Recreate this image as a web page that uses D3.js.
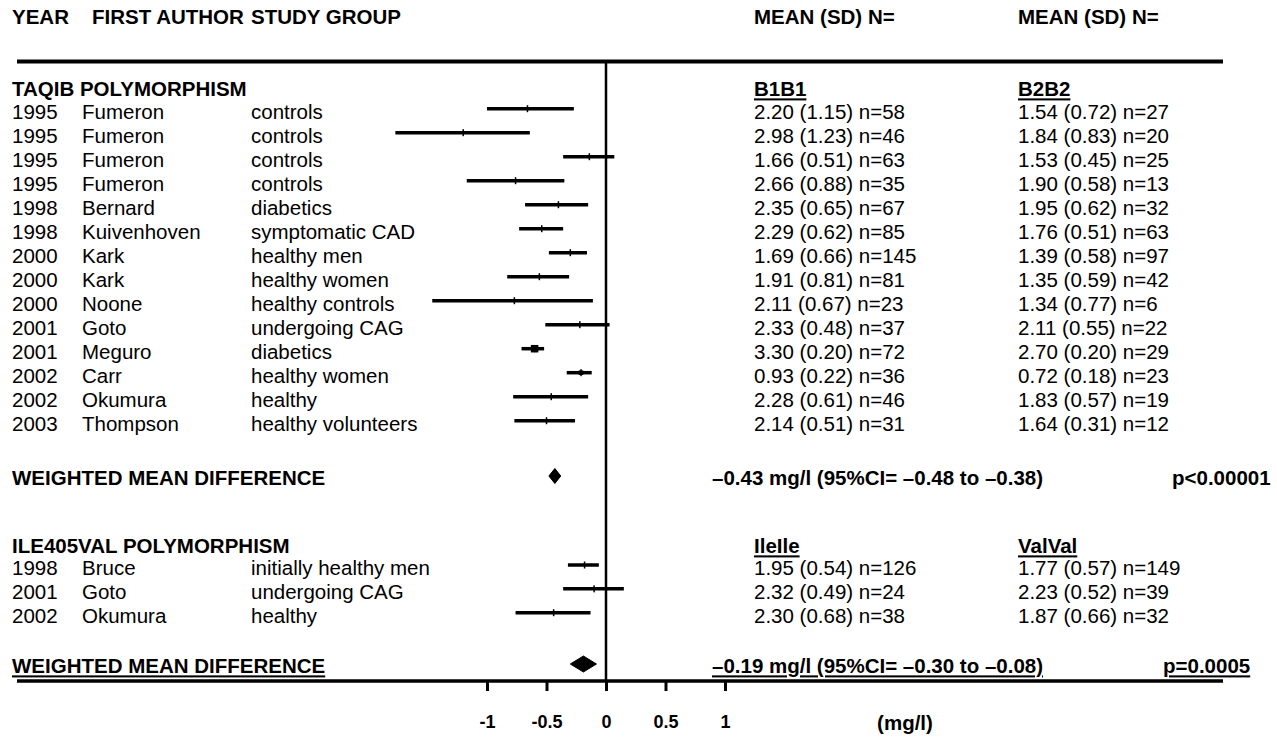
<!DOCTYPE html>
<html>
<head>
<meta charset="utf-8">
<script src="https://cdn.jsdelivr.net/npm/d3@7"></script>
<style>
  body { margin: 0; background: #fff; }
  svg { display: block; font-family: "Liberation Sans", Arial, sans-serif; }
</style>
</head>
<body>
<div id="chart"></div>
<script>
// Forest plot - TaqIB and Ile405Val polymorphisms

// TaqIB studies
let taqYears = ['1995', '1995', '1995', '1995', '1998', '1998', '2000', '2000', '2000', '2001', '2001', '2002', '2002', '2003'];
let taqAuthors = ['Fumeron', 'Fumeron', 'Fumeron', 'Fumeron', 'Bernard', 'Kuivenhoven', 'Kark', 'Kark', 'Noone', 'Goto', 'Meguro', 'Carr', 'Okumura', 'Thompson'];
let taqGroups = ['controls', 'controls', 'controls', 'controls', 'diabetics', 'symptomatic CAD', 'healthy men', 'healthy women', 'healthy controls', 'undergoing CAG', 'diabetics', 'healthy women', 'healthy', 'healthy volunteers'];
let taqB1B1 = ['2.20 (1.15) n=58', '2.98 (1.23) n=46', '1.66 (0.51) n=63', '2.66 (0.88) n=35', '2.35 (0.65) n=67', '2.29 (0.62) n=85', '1.69 (0.66) n=145', '1.91 (0.81) n=81', '2.11 (0.67) n=23', '2.33 (0.48) n=37', '3.30 (0.20) n=72', '0.93 (0.22) n=36', '2.28 (0.61) n=46', '2.14 (0.51) n=31'];
let taqB2B2 = ['1.54 (0.72) n=27', '1.84 (0.83) n=20', '1.53 (0.45) n=25', '1.90 (0.58) n=13', '1.95 (0.62) n=32', '1.76 (0.51) n=63', '1.39 (0.58) n=97', '1.35 (0.59) n=42', '1.34 (0.77) n=6', '2.11 (0.55) n=22', '2.70 (0.20) n=29', '0.72 (0.18) n=23', '1.83 (0.57) n=19', '1.64 (0.31) n=12'];
let taqMean = [-0.66, -1.20, -0.14, -0.76, -0.40, -0.54, -0.30, -0.56, -0.77, -0.22, -0.60, -0.21, -0.46, -0.50];
let taqLow = [-1.00, -1.77, -0.36, -1.17, -0.68, -0.73, -0.48, -0.83, -1.46, -0.51, -0.71, -0.33, -0.78, -0.77];
let taqHigh = [-0.27, -0.64, 0.07, -0.35, -0.15, -0.36, -0.16, -0.31, -0.11, 0.03, -0.52, -0.12, -0.15, -0.26];
let taqWeight = [1, 1, 3, 1, 2, 4, 6, 2, 1, 2, 33, 20, 1, 2];

// Ile405Val studies
let ileYears = ['1998', '2001', '2002'];
let ileAuthors = ['Bruce', 'Goto', 'Okumura'];
let ileGroups = ['initially healthy men', 'undergoing CAG', 'healthy'];
let ileIleIle = ['1.95 (0.54) n=126', '2.32 (0.49) n=24', '2.30 (0.68) n=38'];
let ileValVal = ['1.77 (0.57) n=149', '2.23 (0.52) n=39', '1.87 (0.66) n=32'];
let ileMean = [-0.18, -0.10, -0.44];
let ileLow = [-0.32, -0.36, -0.76];
let ileHigh = [-0.06, 0.15, -0.13];
let ileWeight = [3, 1, 1];

// Pooled results
let pooledMean = [-0.43, -0.19];
let pooledLow = [-0.48, -0.30];
let pooledHigh = [-0.38, -0.08];
let pooledText = ['\u20130.43 mg/l (95%CI= \u20130.48 to \u20130.38)', '\u20130.19 mg/l (95%CI= \u20130.30 to \u20130.08)'];
let pooledP = ['p<0.00001', 'p=0.0005'];

let tickValues = [-1, -0.5, 0, 0.5, 1];
let tickLabels = ['-1', '-0.5', '0', '0.5', '1'];

const renderChart = () => {
    let W = 1277, H = 738;
    let fs = 20.5;

    let s = d3.select("#chart")
        .append("svg")
        .attr("width", W)
        .attr("height", H);

    // x scale for effect size
    let x = d3.scaleLinear().domain([-1, 1]).range([487, 725]);

    // row positions (line centre), text sits a bit lower
    let yT = d3.scaleLinear().domain([0, 13]).range([108.7, 420.7]);
    let yI = d3.scaleLinear().domain([0, 2]).range([565, 612.7]);
    let yP = [476, 664];
    let boxSize = d3.scaleLinear().domain([0, 33]).range([0, 7.5]);

    let cols = { year: 12, author: 82, group: 251, c1: 754, c2: 1018 };

    const txt = (t, xx, yy, bold, underline, anchor) => {
        s.append("text")
            .attr("x", xx)
            .attr("y", yy + fs * 0.36)
            .attr("font-size", fs)
            .attr("font-weight", bold ? "bold" : "normal")
            .attr("text-anchor", anchor || "start")
            .style("text-decoration", underline ? "underline" : "none")
            .attr("fill", "#000")
            .text(t);
    };

    // Header
    txt("YEAR", cols.year, 17, true);
    txt("FIRST AUTHOR", 92, 17, true);
    txt("STUDY GROUP", 251, 17, true);
    txt("MEAN (SD) N=", cols.c1, 17, true);
    txt("MEAN (SD) N=", cols.c2, 17, true);

    s.append("line")
        .attr("x1", 17).attr("x2", 1223)
        .attr("y1", 61.5).attr("y2", 61.5)
        .attr("stroke", "#000").attr("stroke-width", 4);

    // zero line
    s.append("line")
        .attr("x1", x(0)).attr("x2", x(0))
        .attr("y1", 61).attr("y2", 681)
        .attr("stroke", "#000").attr("stroke-width", 2.5);

    // study rows
    const drawGroup = (title, h1, h2, years, authors, groups, c1, c2, mean, low, high, weight, y, headY) => {
        txt(title, cols.year, headY, true);
        txt(h1, cols.c1, headY, true, true);
        txt(h2, cols.c2, headY, true, true);

        let g = s.append("g");
        let idx = d3.range(years.length);

        idx.forEach(function (i) {
            let ty = y(i) + 3;
            txt(years[i], cols.year, ty);
            txt(authors[i], cols.author, ty);
            txt(groups[i], cols.group, ty);
            txt(c1[i], cols.c1, ty);
            txt(c2[i], cols.c2, ty);
        });

        g.selectAll("line.ci")
            .data(idx)
            .enter().append("line")
            .attr("class", "ci")
            .attr("x1", function (i) { return x(low[i]); })
            .attr("x2", function (i) { return x(high[i]); })
            .attr("y1", function (i) { return y(i); })
            .attr("y2", function (i) { return y(i); })
            .attr("stroke", "#000")
            .attr("stroke-width", 3.5);

        g.selectAll("rect.tick")
            .data(idx)
            .enter().append("rect")
            .attr("class", "tick")
            .attr("x", function (i) { return x(mean[i]) - 0.75; })
            .attr("y", function (i) { return y(i) - 3.5; })
            .attr("width", 1.5)
            .attr("height", 7)
            .attr("fill", "#000");

        g.selectAll("rect.box")
            .data(idx)
            .enter().append("rect")
            .attr("class", "box")
            .attr("x", function (i) { return x(mean[i]) - boxSize(weight[i]) / 2; })
            .attr("y", function (i) { return y(i) - boxSize(weight[i]) / 2; })
            .attr("width", function (i) { return boxSize(weight[i]); })
            .attr("height", function (i) { return boxSize(weight[i]); })
            .attr("fill", "#000");
    };

    drawGroup("TAQIB POLYMORPHISM", "B1B1", "B2B2", taqYears, taqAuthors, taqGroups, taqB1B1, taqB2B2,
        taqMean, taqLow, taqHigh, taqWeight, yT, 89);
    drawGroup("ILE405VAL POLYMORPHISM", "IleIle", "ValVal", ileYears, ileAuthors, ileGroups, ileIleIle, ileValVal,
        ileMean, ileLow, ileHigh, ileWeight, yI, 546);

    // pooled diamonds
    let dh = [7.5, 8];
    pooledMean.forEach(function (m, k) {
        let cy = yP[k];
        let pts = [[x(pooledLow[k]), cy], [x(m), cy - dh[k]], [x(pooledHigh[k]), cy], [x(m), cy + dh[k]]];
        s.append("path")
            .attr("d", d3.line()(pts) + "Z")
            .attr("fill", "#000")
            .attr("stroke", "#000")
            .attr("stroke-width", 1);

        let u = k === 1;
        txt("WEIGHTED MEAN DIFFERENCE", cols.year, cy + 2, true, u);
        txt(pooledText[k], 712, cy + 2, true, u);
    });
    txt(pooledP[0], 1172, yP[0] + 2, true);
    txt(pooledP[1], 1163, yP[1] + 2, true, true);

    // bottom axis
    s.append("line")
        .attr("x1", 17).attr("x2", 1223)
        .attr("y1", 681).attr("y2", 681)
        .attr("stroke", "#000").attr("stroke-width", 3.5);

    let ax = s.append("g")
        .attr("transform", "translate(0,681)")
        .call(d3.axisBottom(x)
            .tickValues(tickValues)
            .tickSize(10)
            .tickPadding(24)
            .tickFormat(function (d, i) { return tickLabels[i]; }));

    ax.select(".domain").remove();
    ax.selectAll(".tick line").attr("stroke-width", 3);
    ax.selectAll(".tick text")
        .attr("font-family", "Liberation Sans, Arial, sans-serif")
        .attr("font-size", 18)
        .attr("font-weight", "bold");

    txt("(mg/l)", 905, 723, true, false, "middle");
};

window.onload = function () {
    renderChart();
};
</script>
</body>
</html>
